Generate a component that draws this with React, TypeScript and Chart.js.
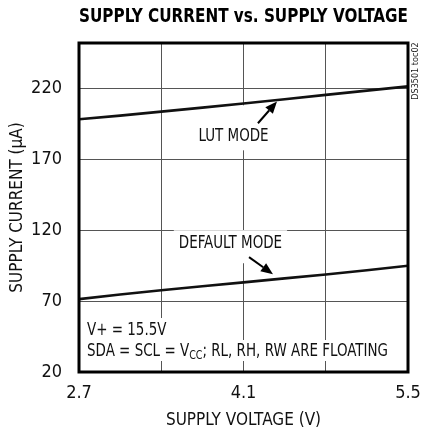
import React, { useEffect, useRef } from "react";
import { Chart, registerables } from "chart.js";

Chart.register(...registerables);

// ---- data ----
const voltage = [2.7, 3.05, 3.4, 3.75, 4.1, 4.45, 4.8, 5.15, 5.5];
const lutModeCurrent = [198.2, 200.8, 203.6, 206.4, 209.3, 212.3, 215.4, 218.4, 221.4];
const defaultModeCurrent = [71.4, 74.6, 77.7, 80.5, 83.2, 86.0, 88.8, 91.8, 94.9];
const xGridValues = [2.7, 3.4, 4.1, 4.8, 5.5];
const xTickLabels = ["2.7", "", "4.1", "", "5.5"];
const yTickValues = [20, 70, 120, 170, 220];

const FONT = "'Liberation Sans Narrow', 'DejaVu Sans Condensed', 'Arial Narrow', 'Liberation Sans', sans-serif";
const CONDENSE = 0.88;

const measureCondensed = (ctx: CanvasRenderingContext2D, text: string, size: number) => {
  ctx.save();
  ctx.font = `${size}px ${FONT}`;
  const w = ctx.measureText(text).width * CONDENSE;
  ctx.restore();
  return w;
};

const drawCondensed = (ctx: CanvasRenderingContext2D, text: string, x: number, y: number, size: number) => {
  ctx.save();
  ctx.font = `${size}px ${FONT}`;
  ctx.textAlign = "left";
  ctx.textBaseline = "middle";
  ctx.fillStyle = "#111";
  ctx.translate(x, y);
  ctx.scale(CONDENSE, 1);
  ctx.fillText(text, 0, 0);
  ctx.restore();
};

const getLayout = (chart: any) => {
  const xs = chart.scales.x;
  const ys = chart.scales.y;
  const px = (v: number) => xs.getPixelForValue(v);
  const py = (v: number) => ys.getPixelForValue(v);
  return {
    px,
    py,
    labels: [
      { text: "LUT MODE", cx: px(4.015), cy: py(186.2), padTop: 31, padBottom: 14 },
      { text: "DEFAULT MODE", cx: px(3.989), cy: py(110.8), padTop: 13, padBottom: 20 },
    ],
    notesX: px(2.768),
    note1Y: py(48.9),
    note2Y: py(34.1),
  };
};

const NOTE1 = "V+ = 15.5V";
const NOTE2A = "SDA = SCL = V";
const NOTE2B = "CC";
const NOTE2C = "; RL, RH, RW ARE FLOATING";

const annotationPlugin = {
  id: "annotations",
  beforeDatasetsDraw(chart: any) {
    const { ctx } = chart;
    const L = getLayout(chart);
    ctx.save();
    ctx.fillStyle = "#ffffff";
    for (const lb of L.labels) {
      const w = measureCondensed(ctx, lb.text, 17);
      ctx.fillRect(lb.cx - w / 2 - 5, lb.cy - lb.padTop, w + 10, lb.padTop + lb.padBottom);
    }
    const w1 = measureCondensed(ctx, NOTE1, 17);
    const w2 =
      measureCondensed(ctx, NOTE2A, 17) + measureCondensed(ctx, NOTE2B, 12) + measureCondensed(ctx, NOTE2C, 17);
    ctx.fillRect(L.notesX - 4, L.note1Y - 13, w1 + 8, 22);
    ctx.fillRect(L.notesX - 4, L.note2Y - 12, w2 + 8, 21);
    ctx.restore();
  },
  afterDraw(chart: any) {
    const { ctx, chartArea } = chart;
    const L = getLayout(chart);
    const { px, py } = L;

    const arrow = (x1: number, y1: number, x2: number, y2: number) => {
      ctx.save();
      const ang = Math.atan2(y2 - y1, x2 - x1);
      const hl = 12;
      const hw = 5;
      const bx = x2 - hl * Math.cos(ang);
      const by = y2 - hl * Math.sin(ang);
      ctx.strokeStyle = "#000";
      ctx.lineWidth = 2;
      ctx.beginPath();
      ctx.moveTo(x1, y1);
      ctx.lineTo(bx, by);
      ctx.stroke();
      ctx.fillStyle = "#000";
      ctx.beginPath();
      ctx.moveTo(x2, y2);
      ctx.lineTo(bx + hw * Math.sin(ang), by - hw * Math.cos(ang));
      ctx.lineTo(bx - hw * Math.sin(ang), by + hw * Math.cos(ang));
      ctx.closePath();
      ctx.fill();
      ctx.restore();
    };

    for (const lb of L.labels) {
      const w = measureCondensed(ctx, lb.text, 17);
      drawCondensed(ctx, lb.text, lb.cx - w / 2, lb.cy, 17);
    }
    arrow(px(4.223), py(195.4), px(4.385), py(210.8));
    arrow(px(4.147), py(101), px(4.351), py(89));

    const wa = measureCondensed(ctx, NOTE2A, 17);
    const wb = measureCondensed(ctx, NOTE2B, 12);
    drawCondensed(ctx, NOTE1, L.notesX, L.note1Y, 17);
    drawCondensed(ctx, NOTE2A, L.notesX, L.note2Y, 17);
    drawCondensed(ctx, NOTE2B, L.notesX + wa, L.note2Y + 4, 12);
    drawCondensed(ctx, NOTE2C, L.notesX + wa + wb, L.note2Y, 17);

    // frame
    ctx.save();
    ctx.strokeStyle = "#000";
    ctx.lineWidth = 3;
    ctx.strokeRect(chartArea.left, chartArea.top, chartArea.right - chartArea.left, chartArea.bottom - chartArea.top);
    ctx.restore();

    // figure id
    ctx.save();
    ctx.font = `9px ${FONT}`;
    ctx.fillStyle = "#222";
    ctx.textAlign = "center";
    ctx.textBaseline = "middle";
    ctx.translate(chartArea.right + 8, chartArea.top + 28);
    ctx.rotate(-Math.PI / 2);
    ctx.fillText("DS3501 toc02", 0, 0);
    ctx.restore();
  },
};

export default function App() {
  const ref = useRef<HTMLCanvasElement | null>(null);

  useEffect(() => {
    if (!ref.current) return;
    const chart = new Chart(ref.current, {
      type: "line",
      data: {
        datasets: [
          {
            label: "LUT MODE",
            data: voltage.map((v, i) => ({ x: v, y: lutModeCurrent[i] })),
            borderColor: "#111",
            borderWidth: 2.6,
            pointRadius: 0,
            tension: 0,
          },
          {
            label: "DEFAULT MODE",
            data: voltage.map((v, i) => ({ x: v, y: defaultModeCurrent[i] })),
            borderColor: "#111",
            borderWidth: 2.6,
            pointRadius: 0,
            tension: 0,
          },
        ],
      },
      options: {
        responsive: false,
        animation: false,
        devicePixelRatio: 1,
        layout: { padding: { left: 0, right: 14, top: 0, bottom: 0 } },
        plugins: {
          legend: { display: false },
          tooltip: { enabled: false },
          title: {
            display: true,
            text: "SUPPLY CURRENT vs. SUPPLY VOLTAGE",
            fullSize: false,
            color: "#000",
            font: { family: FONT, size: 20, weight: "bold", lineHeight: 1.2 },
            padding: { top: 5, bottom: 14 },
          },
        },
        scales: {
          x: {
            type: "linear",
            min: 2.7,
            max: 5.5,
            afterBuildTicks: (scale: any) => {
              scale.ticks = xGridValues.map((v) => ({ value: v }));
            },
            afterFit: (scale: any) => {
              scale.height = 63;
              scale.paddingLeft = 0;
              scale.paddingRight = 0;
            },
            ticks: {
              autoSkip: false,
              maxRotation: 0,
              padding: 11,
              color: "#111",
              font: { family: FONT, size: 18 },
              callback: (value: any) => {
                const i = xGridValues.findIndex((g) => Math.abs(g - Number(value)) < 1e-6);
                return i >= 0 ? xTickLabels[i] : "";
              },
            },
            grid: { color: "#555", lineWidth: 1, drawTicks: false },
            border: { display: false },
            title: {
              display: true,
              text: "SUPPLY VOLTAGE (V)",
              color: "#111",
              font: { family: FONT, size: 17 },
              padding: { top: 0, bottom: 4 },
            },
          },
          y: {
            type: "linear",
            min: 20,
            max: 252,
            afterBuildTicks: (scale: any) => {
              scale.ticks = yTickValues.map((v) => ({ value: v }));
            },
            afterFit: (scale: any) => {
              scale.width = 79;
              scale.paddingTop = 0;
              scale.paddingBottom = 0;
            },
            ticks: {
              padding: 17,
              color: "#111",
              font: { family: FONT, size: 18 },
            },
            grid: { color: "#555", lineWidth: 1, drawTicks: false },
            border: { display: false },
            title: {
              display: true,
              text: "SUPPLY CURRENT (µA)",
              color: "#111",
              font: { family: FONT, size: 17 },
              padding: { top: 7, bottom: 0 },
            },
          },
        },
      },
      plugins: [annotationPlugin],
    });
    return () => chart.destroy();
  }, []);

  return (
    <div style={{ position: "absolute", left: 0, top: 0, width: 422, height: 435, background: "#fff" }}>
      <canvas ref={ref} width={422} height={435} style={{ width: 422, height: 435 }} />
    </div>
  );
}
